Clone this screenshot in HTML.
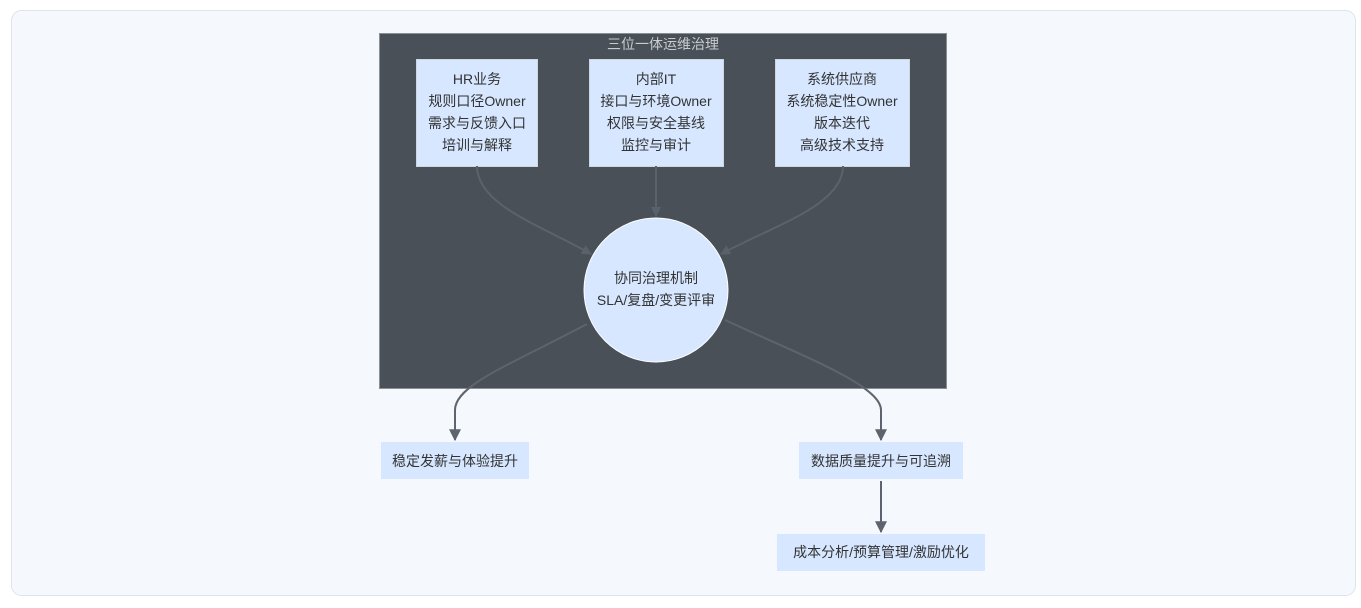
<!DOCTYPE html>
<html><head><meta charset="utf-8"><style>
html,body{margin:0;padding:0;background:#fff;width:1361px;height:608px;overflow:hidden}
svg{display:block}
text{font-family:"Liberation Sans","Noto Sans CJK SC",sans-serif;font-size:14px;fill:#333;text-anchor:middle}
</style></head><body>
<svg width="1361" height="608" viewBox="0 0 1361 608">
<defs>
<marker id="a1" viewBox="0 0 10 10" refX="9" refY="5" markerWidth="10" markerHeight="10" markerUnits="userSpaceOnUse" orient="auto"><path d="M0,0L10,5L0,10z" fill="#58626b"/></marker>
<marker id="a2" viewBox="0 0 10 10" refX="9" refY="5" markerWidth="12" markerHeight="12" markerUnits="userSpaceOnUse" orient="auto"><path d="M0,0L10,5L0,10z" fill="#5d646d"/></marker>
</defs>
<rect x="11.5" y="10.5" width="1344" height="585" rx="10" fill="#f5f9fd" stroke="#dde4ea"/>
<rect x="379.5" y="33.5" width="567" height="355" fill="#4a5058" stroke="#8a8f94"/>
<text x="663" y="49" style="fill:#c8ccd0">三位一体运维治理</text>
<g fill="#d6e7ff" stroke="#cfd6de">
<rect x="416.5" y="59.5" width="121" height="107"/>
<rect x="589.5" y="59.5" width="134" height="107"/>
<rect x="775.5" y="59.5" width="134" height="107"/>
</g>
<g>
<text x="477" y="84">HR业务</text><text x="477" y="106">规则口径Owner</text><text x="477" y="128">需求与反馈入口</text><text x="477" y="150">培训与解释</text>
<text x="656" y="84">内部IT</text><text x="656" y="106">接口与环境Owner</text><text x="656" y="128">权限与安全基线</text><text x="656" y="150">监控与审计</text>
<text x="842" y="84">系统供应商</text><text x="842" y="106">系统稳定性Owner</text><text x="842" y="128">版本迭代</text><text x="842" y="150">高级技术支持</text>
</g>
<g fill="none" stroke="#5a636c" stroke-width="2">
<path d="M477,166 C477,205 540,225 591,254" marker-end="url(#a1)"/>
<path d="M656,166 L656,216" marker-end="url(#a1)"/>
<path d="M843,166 C843,205 775,225 721,254" marker-end="url(#a1)"/>
</g>
<circle cx="656" cy="290" r="72" fill="#d6e7ff" stroke="#fff" stroke-width="1"/>
<text x="656" y="283">协同治理机制</text>
<text x="656" y="305">SLA/复盘/变更评审</text>
<g fill="none" stroke="#5d646d" stroke-width="2">
<path d="M587,324 C510,365 455,385 455,410 L455,440" marker-end="url(#a2)"/>
<path d="M725,320 C800,355 881,385 881,410 L881,440" marker-end="url(#a2)"/>
<path d="M881,481 L881,532" marker-end="url(#a2)"/>
</g>
<g fill="#d6e7ff">
<rect x="381" y="442" width="148" height="37"/>
<rect x="799" y="442" width="164" height="37"/>
<rect x="777" y="534" width="208" height="37"/>
</g>
<text x="455" y="466">稳定发薪与体验提升</text>
<text x="881" y="466">数据质量提升与可追溯</text>
<text x="881" y="557">成本分析/预算管理/激励优化</text>
</svg>
</body></html>
